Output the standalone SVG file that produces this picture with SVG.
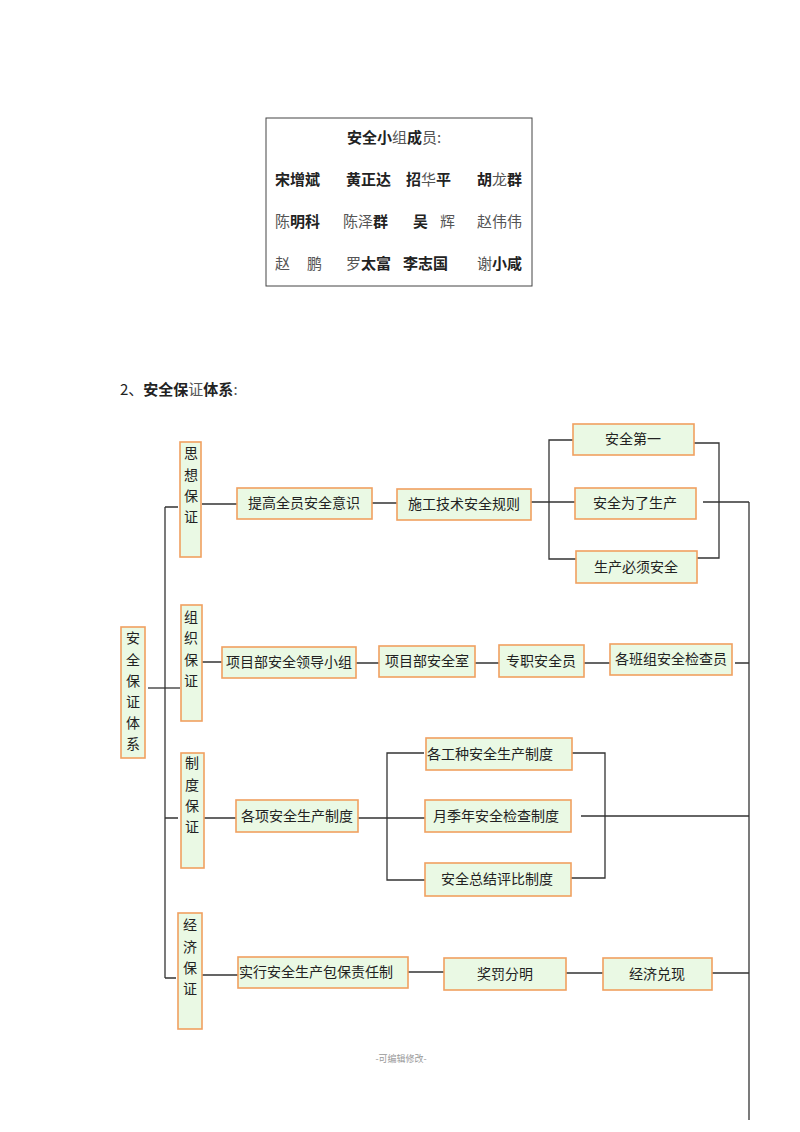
<svg xmlns="http://www.w3.org/2000/svg" width="800" height="1132" viewBox="0 0 800 1132">
<style>
.t{font-family:"Noto Sans CJK SC","Liberation Sans",sans-serif;font-size:14px;fill:#222}
.n{font-family:"Noto Sans CJK SC","Liberation Sans",sans-serif;font-size:15px;fill:#222}
.b{font-weight:bold}
.l{font-weight:normal;fill:#555}
.c{text-anchor:middle}
.box{fill:#eaf9e4;stroke:#f0a060;stroke-width:1.6}
.ln{stroke:#333;stroke-width:1.3;fill:none}
</style>
<rect width="800" height="1132" fill="#fff"/>
<g id="members">
<rect x="266" y="118" width="266" height="168" fill="#fff" stroke="#444" stroke-width="1"/>
<text class="n" x="347" y="143"><tspan class="b">安全小</tspan><tspan class="l">组</tspan><tspan class="b">成</tspan><tspan class="l">员:</tspan></text>
<text class="n b" x="275" y="185">宋增斌</text>
<text class="n b" x="346" y="185">黄正达</text>
<text class="n" x="406" y="185"><tspan class="b">招</tspan><tspan class="l">华</tspan><tspan class="b">平</tspan></text>
<text class="n" x="477" y="185"><tspan class="b">胡</tspan><tspan class="l">龙</tspan><tspan class="b">群</tspan></text>
<text class="n" x="275" y="227"><tspan class="l">陈</tspan><tspan class="b">明科</tspan></text>
<text class="n" x="343" y="227"><tspan class="l">陈泽</tspan><tspan class="b">群</tspan></text>
<text class="n b" x="413" y="227">吴</text>
<text class="n l" x="440" y="227">辉</text>
<text class="n l" x="477" y="227">赵伟伟</text>
<text class="n l" x="275" y="269">赵</text>
<text class="n l" x="307" y="269">鹏</text>
<text class="n" x="346" y="269"><tspan class="l">罗</tspan><tspan class="b">太富</tspan></text>
<text class="n b" x="403" y="269">李志国</text>
<text class="n" x="477" y="269"><tspan class="l">谢</tspan><tspan class="b">小咸</tspan></text>
</g>
<g id="heading">
<text class="n" x="120" y="395"><tspan>2、</tspan><tspan class="b">安全保</tspan><tspan class="l">证</tspan><tspan class="b">体系</tspan><tspan class="l">:</tspan></text>
</g>
<g id="connectors">
<path class="ln" d="M148 688H180"/>
<path class="ln" d="M165 507V978"/>
<path class="ln" d="M165 507H178M165 818H178M165 978H176"/>
<path class="ln" d="M202 504H237M372 503H397M531 502H575"/>
<path class="ln" d="M573 440H549V559H576"/>
<path class="ln" d="M694 443H719V558H697"/>
<path class="ln" d="M703 502H749"/>
<path class="ln" d="M749 502V1120"/>
<path class="ln" d="M198 662H222M356 663H379M475 663H500M584 663H610M735 663H749"/>
<path class="ln" d="M204 818H237M358 818H425"/>
<path class="ln" d="M424 753H387V880H425"/>
<path class="ln" d="M572 753H605V878H571"/>
<path class="ln" d="M581 816H749"/>
<path class="ln" d="M202 975H238M408 972H444M566 973H603M712 973H749"/>
</g>
<g id="n-root"><rect class="box" x="121" y="627" width="24" height="131"/>
<text class="t c" x="133"><tspan x="133" y="643">安</tspan><tspan x="133" y="665">全</tspan><tspan x="133" y="686">保</tspan><tspan x="133" y="707">证</tspan><tspan x="133" y="728">体</tspan><tspan x="133" y="749">系</tspan></text></g>
<g id="n-sixiang"><rect class="box" x="180" y="442" width="21" height="115"/>
<text class="t c"><tspan x="191" y="458">思</tspan><tspan x="191" y="480">想</tspan><tspan x="191" y="501">保</tspan><tspan x="191" y="522">证</tspan></text></g>
<g id="n-zuzhi"><rect class="box" x="181" y="605" width="21" height="116"/>
<text class="t c"><tspan x="191" y="622">组</tspan><tspan x="191" y="643">织</tspan><tspan x="191" y="665">保</tspan><tspan x="191" y="686">证</tspan></text></g>
<g id="n-zhidu"><rect class="box" x="181" y="753" width="23" height="115"/>
<text class="t c"><tspan x="192" y="768">制</tspan><tspan x="192" y="790">度</tspan><tspan x="192" y="811">保</tspan><tspan x="192" y="832">证</tspan></text></g>
<g id="n-jingji"><rect class="box" x="178" y="913" width="24" height="116"/>
<text class="t c"><tspan x="190" y="930">经</tspan><tspan x="190" y="952">济</tspan><tspan x="190" y="973">保</tspan><tspan x="190" y="994">证</tspan></text></g>
<g id="n-tigao"><rect class="box" x="237" y="488" width="135" height="31"/><text class="t c" x="304" y="508">提高全员安全意识</text></g>
<g id="n-shigong"><rect class="box" x="397" y="489" width="134" height="31"/><text class="t c" x="464" y="509">施工技术安全规则</text></g>
<g id="n-diyi"><rect class="box" x="573" y="424" width="121" height="31"/><text class="t c" x="633" y="444">安全第一</text></g>
<g id="n-weile"><rect class="box" x="575" y="488" width="121" height="31"/><text class="t c" x="635" y="508">安全为了生产</text></g>
<g id="n-bixu"><rect class="box" x="576" y="551" width="121" height="32"/><text class="t c" x="636" y="572">生产必须安全</text></g>
<g id="n-lingdao"><rect class="box" x="222" y="647" width="134" height="31"/><text class="t c" x="289" y="667">项目部安全领导小组</text></g>
<g id="n-shi"><rect class="box" x="379" y="646" width="96" height="31"/><text class="t c" x="427" y="666">项目部安全室</text></g>
<g id="n-zhuanzhi"><rect class="box" x="499" y="645" width="85" height="32"/><text class="t c" x="541" y="666">专职安全员</text></g>
<g id="n-banzu"><rect class="box" x="610" y="644" width="122" height="31"/><text class="t c" x="671" y="664">各班组安全检查员</text></g>
<g id="n-gexiang"><rect class="box" x="236" y="800" width="122" height="32"/><text class="t c" x="297" y="821">各项安全生产制度</text></g>
<g id="n-gongzhong"><rect class="box" x="426" y="738" width="146" height="32"/><text class="t" x="427" y="759">各工种安全生产制度</text></g>
<g id="n-jianc"><rect class="box" x="425" y="800" width="146" height="32"/><text class="t c" x="496" y="821">月季年安全检查制度</text></g>
<g id="n-zongjie"><rect class="box" x="425" y="863" width="146" height="33"/><text class="t c" x="497" y="884">安全总结评比制度</text></g>
<g id="n-baobao"><rect class="box" x="238" y="957" width="170" height="31"/><text class="t" x="239" y="977">实行安全生产包保责任制</text></g>
<g id="n-jiangfa"><rect class="box" x="444" y="958" width="122" height="32"/><text class="t c" x="505" y="979">奖罚分明</text></g>
<g id="n-duixian"><rect class="box" x="603" y="958" width="109" height="32"/><text class="t c" x="657" y="979">经济兑现</text></g>
<g id="footer"><text x="401" y="1062" text-anchor="middle" font-family="Noto Sans CJK SC, sans-serif" font-size="9" fill="#999">-可编辑修改-</text></g>
</svg>
